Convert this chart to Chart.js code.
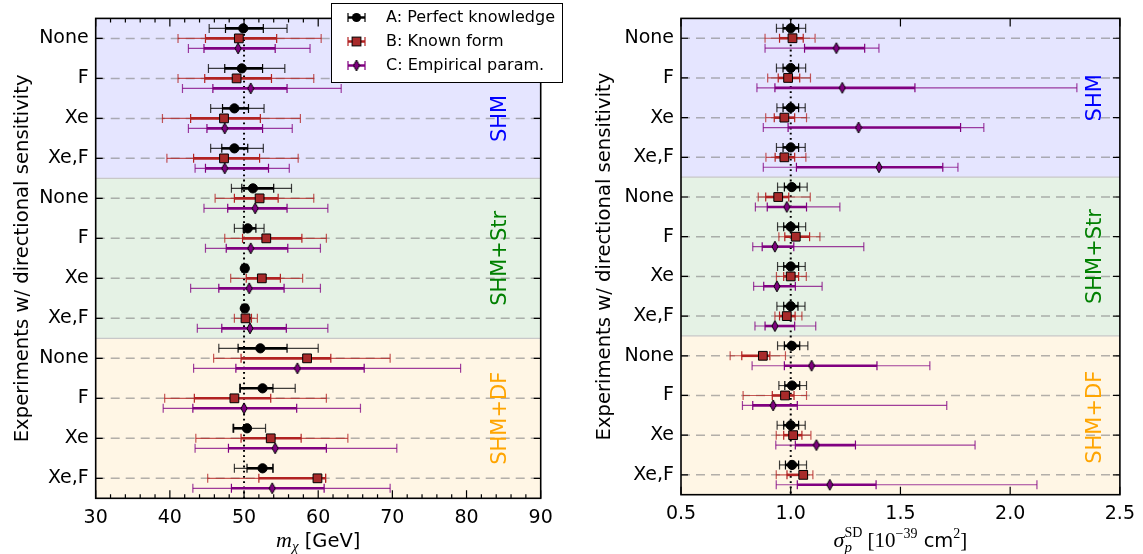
<!DOCTYPE html>
<html><head><meta charset="utf-8">
<script src="https://cdn.jsdelivr.net/npm/chart.js@4/dist/chart.umd.min.js"></script>
<style>
html,body{margin:0;padding:0;background:#fff;overflow:hidden}
#wrap{position:relative;width:1143px;height:554px;background:#fff}
.box{position:absolute;top:0}
</style></head><body>
<div id="wrap">
<div class="box" style="left:0;width:575px;height:554px"><canvas id="c1" width="575" height="554"></canvas></div>
<div class="box" style="left:575px;width:568px;height:554px"><canvas id="c2" width="568" height="554"></canvas></div>
</div>
<script>
// ---------------- DATA ----------------
const categories = ['None','F','Xe','Xe,F','None','F','Xe','Xe,F','None','F','Xe','Xe,F'];
const haloNames = ['SHM','SHM+Str','SHM+DF'];
const haloRanges = [[-0.5,3.5],[3.5,7.5],[7.5,11.5]];
const seriesNames = ['A: Perfect knowledge','B: Known form','C: Empirical param.'];
const massTicks = [30,40,50,60,70,80,90];
const sigmaTicks = [0.5,1.0,1.5,2.0,2.5];
const massTrue = 50;
const sigmaTrue = 1.0;

// m_chi [GeV]: best fit, inner interval, outer interval
const massA = [49.9,49.7,48.7,48.7,51.2,50.5,50.1,50.1,52.2,52.5,50.4,52.5];
const massA_in = [[47.5,52.6],[47.4,52.5],[47.1,50.6],[47.0,50.5],[49.7,54.0],[49.9,51.6],[49.85,50.35],[49.85,50.35],[49.2,55.8],[49.5,53.9],[48.6,50.6],[50.4,53.9]];
const massA_out = [[45.3,55.8],[45.2,55.5],[45.5,52.7],[45.5,52.6],[48.3,56.4],[48.7,52.7],[49.7,50.5],[49.7,50.5],[46.6,60.0],[49.4,56.9],[48.5,52.9],[48.7,53.9]];
const massB = [49.3,49.0,47.3,47.3,52.1,53.0,52.4,50.2,58.5,48.7,53.6,59.9];
const massB_in = [[44.8,54.4],[44.7,53.7],[42.8,52.2],[43.2,52.1],[48.7,54.6],[49.8,57.8],[50.3,54.9],[49.8,51.0],[49.6,61.7],[43.3,53.6],[49.6,57.7],[52.0,61.0]];
const massB_out = [[41.1,60.4],[41.1,59.4],[39.0,57.6],[39.6,57.3],[46.1,59.4],[47.4,61.1],[48.2,57.9],[48.7,51.8],[45.9,69.7],[39.3,61.1],[43.5,64.0],[45.1,61.0]];
const massC = [49.2,50.9,47.4,47.4,51.5,50.9,50.7,50.8,57.2,50.0,54.2,53.8];
const massC_in = [[44.6,54.2],[45.8,55.8],[45.0,52.5],[44.8,53.3],[47.8,55.8],[47.6,55.9],[46.6,55.4],[47.0,55.7],[48.9,66.2],[43.1,57.1],[47.9,61.1],[48.3,60.8]];
const massC_out = [[42.5,58.9],[41.7,63.1],[42.5,56.5],[43.4,56.1],[44.6,61.3],[44.8,60.3],[42.8,60.3],[43.7,61.3],[43.2,79.2],[39.1,65.7],[43.4,70.6],[43.1,69.7]];

// sigma_p^SD [1e-39 cm^2]
const sigA = [1.0,1.0,1.0,1.0,1.005,1.0,1.0,1.0,1.005,1.006,1.0,1.006];
const sigA_in = [[0.965,1.036],[0.965,1.036],[0.965,1.036],[0.965,1.036],[0.971,1.041],[0.968,1.036],[0.968,1.036],[0.968,1.033],[0.971,1.041],[0.973,1.041],[0.968,1.036],[0.976,1.036]];
const sigA_out = [[0.935,1.068],[0.935,1.068],[0.937,1.066],[0.935,1.066],[0.94,1.075],[0.94,1.068],[0.94,1.066],[0.937,1.065],[0.94,1.078],[0.946,1.072],[0.938,1.066],[0.949,1.072]];
const sigB = [1.008,0.988,0.971,0.971,0.943,1.023,1.0,0.982,0.873,0.974,1.011,1.057];
const sigB_in = [[0.949,1.057],[0.943,1.041],[0.925,1.018],[0.929,1.018],[0.886,0.991],[0.973,1.086],[0.968,1.036],[0.949,1.02],[0.777,0.905],[0.916,1.015],[0.968,1.051],[0.983,1.075]];
const sigB_out = [[0.883,1.111],[0.895,1.09],[0.886,1.072],[0.887,1.069],[0.852,1.089],[0.946,1.133],[0.935,1.071],[0.928,1.051],[0.724,0.976],[0.783,1.072],[0.934,1.092],[0.934,1.101]];
const sigC = [1.208,1.235,1.309,1.402,0.982,0.928,0.937,0.928,1.095,0.92,1.117,1.178];
const sigC_in = [[1.063,1.337],[0.928,1.566],[0.988,1.774],[1.026,1.693],[0.893,1.072],[0.87,1.014],[0.877,1.021],[0.883,1.018],[0.971,1.393],[0.827,1.03],[1.021,1.295],[1.03,1.389]];
const sigC_out = [[0.883,1.402],[0.846,2.304],[0.875,1.88],[0.875,1.762],[0.839,1.224],[0.827,1.333],[0.831,1.143],[0.837,1.114],[0.824,1.634],[0.78,1.711],[0.932,1.84],[0.934,2.122]];

// ---------------- STYLE ----------------
const SANS = '"DejaVu Sans"';
const SERIF = '"Liberation Serif"';
Chart.defaults.font.family = SANS;
const rowOffsets = [-0.25, 0, 0.25];
const barColors = ['#000000', '#b22222', '#800080'];
const markerFill = ['#000000', '#a82a2a', '#800080'];
const bandFill = ['rgba(0,0,255,0.1)', 'rgba(0,128,0,0.1)', 'rgba(255,165,0,0.1)'];
const bandText = ['#0000ff', '#008000', '#ffa500'];

function makeDiamond(w, h, fill) {
  const c = document.createElement('canvas');
  c.width = w + 2; c.height = h + 2;
  const g = c.getContext('2d');
  g.beginPath();
  g.moveTo(c.width / 2, 1); g.lineTo(w + 1, c.height / 2);
  g.lineTo(c.width / 2, h + 1); g.lineTo(1, c.height / 2); g.closePath();
  g.fillStyle = fill; g.fill();
  g.strokeStyle = '#000'; g.lineWidth = 1; g.stroke();
  return c;
}
const diamond = makeDiamond(6, 11, markerFill[2]);

function drawErr(ctx, p1, p2, y, color, width, alpha) {
  ctx.save();
  ctx.globalAlpha = alpha;
  ctx.strokeStyle = color;
  ctx.lineWidth = width;
  ctx.beginPath(); ctx.moveTo(p1, y); ctx.lineTo(p2, y); ctx.stroke();
  ctx.lineWidth = 1.2;
  ctx.beginPath();
  ctx.moveTo(p1, y - 4.5); ctx.lineTo(p1, y + 4.5);
  ctx.moveTo(p2, y - 4.5); ctx.lineTo(p2, y + 4.5);
  ctx.stroke();
  ctx.restore();
}

function drawRich(ctx, parts, cx, baseY) {
  const widths = parts.map(p => { ctx.font = p.f; return ctx.measureText(p.t).width; });
  let x = 0, prevStart = 0, prevW = 0; const pos = [];
  parts.forEach((p, i) => {
    if (p.stack) { pos.push(prevStart); const w = Math.max(prevW, widths[i]); x = prevStart + w; prevW = w; }
    else { pos.push(x); prevStart = x; prevW = widths[i]; x += widths[i]; }
  });
  const x0 = cx - x / 2;
  ctx.save();
  ctx.textAlign = 'left'; ctx.textBaseline = 'alphabetic'; ctx.fillStyle = '#000';
  parts.forEach((p, i) => { ctx.font = p.f; ctx.fillText(p.t, x0 + pos[i], baseY + (p.dy || 0)); });
  ctx.restore();
}

function drawLegend(ctx) {
  ctx.save();
  ctx.fillStyle = '#fff';
  ctx.fillRect(331.5, 3.5, 231, 79);
  ctx.strokeStyle = '#000'; ctx.lineWidth = 1;
  ctx.strokeRect(331.5, 3.5, 231, 79);
  const rows = [17.5, 41.5, 65.5];
  ctx.font = '16px ' + SANS; ctx.textBaseline = 'middle'; ctx.textAlign = 'left';
  seriesNames.forEach((name, s) => {
    const y = rows[s];
    drawErr(ctx, 348, 365, y, barColors[s], 2.5, 1);
    const cx = 356.5;
    if (s === 0) { ctx.beginPath(); ctx.arc(cx, y, 4.6, 0, Math.PI * 2); ctx.fillStyle = '#000'; ctx.fill(); }
    else if (s === 1) { ctx.fillStyle = markerFill[1]; ctx.fillRect(cx - 4.4, y - 4.4, 8.8, 8.8); ctx.strokeStyle = '#000'; ctx.lineWidth = 1; ctx.strokeRect(cx - 4.4, y - 4.4, 8.8, 8.8); }
    else { ctx.drawImage(diamond, cx - diamond.width / 2, y - diamond.height / 2); }
    ctx.fillStyle = '#000';
    ctx.fillText(name, 386, y);
  });
  ctx.restore();
}

function makePanelPlugin(cfg) {
  return {
    id: 'panel_' + cfg.id,
    beforeDraw(chart) {
      const {ctx, chartArea: a, scales: {x, y}} = chart;
      ctx.save();
      haloRanges.forEach((r, k) => {
        const y1 = y.getPixelForValue(r[0]), y2 = y.getPixelForValue(r[1]);
        ctx.fillStyle = bandFill[k];
        ctx.fillRect(a.left, Math.min(y1, y2), a.right - a.left, Math.abs(y2 - y1));
      });
      // dashed horizontal grid lines at categories
      ctx.strokeStyle = 'rgba(128,128,128,0.6)';
      ctx.lineWidth = 1.5;
      ctx.setLineDash([9, 6]);
      categories.forEach((c, i) => {
        const py = y.getPixelForValue(i);
        ctx.beginPath(); ctx.moveTo(a.left, py); ctx.lineTo(a.right, py); ctx.stroke();
      });
      ctx.setLineDash([]);
      // band boundaries
      ctx.strokeStyle = '#c8c8c8'; ctx.lineWidth = 1.2;
      [3.5, 7.5].forEach(v => {
        const py = y.getPixelForValue(v);
        ctx.beginPath(); ctx.moveTo(a.left, py); ctx.lineTo(a.right, py); ctx.stroke();
      });
      ctx.restore();
    },
    beforeDatasetsDraw(chart) {
      const {ctx, chartArea: a, scales: {x, y}} = chart;
      ctx.save();
      // band labels
      ctx.font = '21px ' + SANS; ctx.textAlign = 'center'; ctx.textBaseline = 'middle';
      haloNames.forEach((n, k) => {
        ctx.save();
        ctx.translate(x.getPixelForValue(cfg.labelX), y.getPixelForValue(cfg.labelRows[k]));
        ctx.rotate(-Math.PI / 2);
        ctx.fillStyle = bandText[k];
        ctx.fillText(n, 0, 0);
        ctx.restore();
      });
      // truth line
      const tx = x.getPixelForValue(cfg.truth);
      ctx.strokeStyle = '#000'; ctx.lineWidth = 2; ctx.setLineDash([1.8, 3.4]);
      ctx.beginPath(); ctx.moveTo(tx, a.top); ctx.lineTo(tx, a.bottom); ctx.stroke();
      ctx.setLineDash([]);
      // error bars
      cfg.series.forEach((s, si) => {
        s.c.forEach((v, i) => {
          const py = y.getPixelForValue(i + rowOffsets[si]);
          drawErr(ctx, x.getPixelForValue(s.outer[i][0]), x.getPixelForValue(s.outer[i][1]), py, barColors[si], 1.15, 0.75);
          drawErr(ctx, x.getPixelForValue(s.inner[i][0]), x.getPixelForValue(s.inner[i][1]), py, barColors[si], 2.6, 1);
        });
      });
      ctx.restore();
    },
    afterDraw(chart) {
      const {ctx, chartArea: a, scales: {x, y}} = chart;
      ctx.save();
      ctx.strokeStyle = '#000'; ctx.lineWidth = 1.2;
      ctx.beginPath();
      categories.forEach((c, i) => {
        const py = y.getPixelForValue(i);
        ctx.moveTo(a.left, py); ctx.lineTo(a.left + 7, py);
        ctx.moveTo(a.right, py); ctx.lineTo(a.right - 7, py);
      });
      cfg.ticks.forEach(v => {
        const px = x.getPixelForValue(v);
        ctx.moveTo(px, a.bottom); ctx.lineTo(px, a.bottom - 8);
        ctx.moveTo(px, a.top); ctx.lineTo(px, a.top + 8);
      });
      cfg.minor.forEach(v => {
        const px = x.getPixelForValue(v);
        ctx.moveTo(px, a.bottom); ctx.lineTo(px, a.bottom - 4);
        ctx.moveTo(px, a.top); ctx.lineTo(px, a.top + 4);
      });
      ctx.stroke();
      ctx.lineWidth = 1.6;
      ctx.strokeRect(a.left, a.top, a.right - a.left, a.bottom - a.top);
      ctx.restore();
      drawRich(ctx, cfg.xTitle, (a.left + a.right) / 2, 546.5);
      if (cfg.legend) drawLegend(ctx);
    }
  };
}

function buildChart(canvasId, geom, cfg) {
  const pointStyles = ['circle', 'rect', diamond];
  const radii = [4.6, 6.2, 5];
  const datasets = cfg.series.map((s, si) => ({
    label: seriesNames[si],
    data: s.c.map((v, i) => ({x: v, y: i + rowOffsets[si]})),
    pointStyle: pointStyles[si],
    pointRadius: radii[si],
    pointBackgroundColor: markerFill[si],
    pointBorderColor: '#000',
    pointBorderWidth: 1,
    showLine: false
  }));
  return new Chart(document.getElementById(canvasId), {
    type: 'scatter',
    data: {datasets},
    options: {
      responsive: false,
      animation: false,
      events: [],
      layout: {padding: {left: 0, right: geom.padRight, top: geom.padTop, bottom: 0}},
      plugins: {legend: {display: false}, tooltip: {enabled: false}},
      scales: {
        x: {
          type: 'linear', min: cfg.min, max: cfg.max,
          grid: {display: false, drawTicks: false},
          border: {display: false},
          afterBuildTicks: sc => { sc.ticks = cfg.ticks.map(v => ({value: v})); },
          afterFit: sc => { sc.height = geom.xHeight; },
          ticks: {autoSkip: false, maxRotation: 0, padding: 8, color: '#000', font: {size: 19, family: SANS},
                  callback: v => cfg.fmt(v)}
        },
        y: {
          type: 'linear', min: -0.5, max: 11.5, reverse: true,
          grid: {display: false, drawTicks: false},
          border: {display: false},
          afterBuildTicks: sc => { sc.ticks = categories.map((c, i) => ({value: i})); },
          afterFit: sc => { sc.width = geom.yWidth; },
          ticks: {autoSkip: false, padding: 7, color: '#000', font: {size: 19, family: SANS},
                  callback: v => categories[v] !== undefined ? categories[v] : ''},
          title: {display: true, text: 'Experiments w/ directional sensitivity', color: '#000',
                  font: {size: 19.6, family: SANS}, padding: {top: geom.titlePad, bottom: 0}}
        }
      }
    },
    plugins: [makePanelPlugin(cfg)]
  });
}

const massMinor = [];
for (let v = massTicks[0]; v <= massTicks[massTicks.length - 1]; v += 2) massMinor.push(v);

buildChart('c1', {padRight: 34.3, padTop: 15.7, xHeight: 55.7, yWidth: 95.7, titlePad: 11}, {
  id: 'mass', min: 30, max: 90, ticks: massTicks, minor: massMinor, fmt: v => String(v),
  truth: massTrue, labelX: 84.6, labelRows: [2.0, 5.5, 9.5], legend: true,
  series: [
    {c: massA, inner: massA_in, outer: massA_out},
    {c: massB, inner: massB_in, outer: massB_out},
    {c: massC, inner: massC_in, outer: massC_out}
  ],
  xTitle: [
    {t: 'm', f: 'italic 22px ' + SERIF},
    {t: 'χ', f: 'italic 15px ' + SERIF, dy: 4},
    {t: ' [GeV]', f: '19.5px ' + SANS}
  ]
});

buildChart('c2', {padRight: 19, padTop: 15, xHeight: 59.3, yWidth: 106, titlePad: 18.6}, {
  id: 'sigma', min: 0.5, max: 2.5, ticks: sigmaTicks, minor: [], fmt: v => v.toFixed(1),
  truth: sigmaTrue, labelX: 2.387, labelRows: [1.5, 5.5, 9.55], legend: false,
  series: [
    {c: sigA, inner: sigA_in, outer: sigA_out},
    {c: sigB, inner: sigB_in, outer: sigB_out},
    {c: sigC, inner: sigC_in, outer: sigC_out}
  ],
  xTitle: [
    {t: 'σ', f: 'italic 22px ' + SERIF},
    {t: 'p', f: 'italic 15px ' + SERIF, dy: 5},
    {t: 'SD', f: '14px ' + SERIF, dy: -10, stack: true},
    {t: ' [10', f: '21px ' + SERIF},
    {t: '−39', f: '14px ' + SERIF, dy: -9},
    {t: ' cm', f: '19.5px ' + SANS},
    {t: '2', f: '14px ' + SERIF, dy: -9},
    {t: ']', f: '21px ' + SERIF}
  ]
});
</script>
</body></html>
